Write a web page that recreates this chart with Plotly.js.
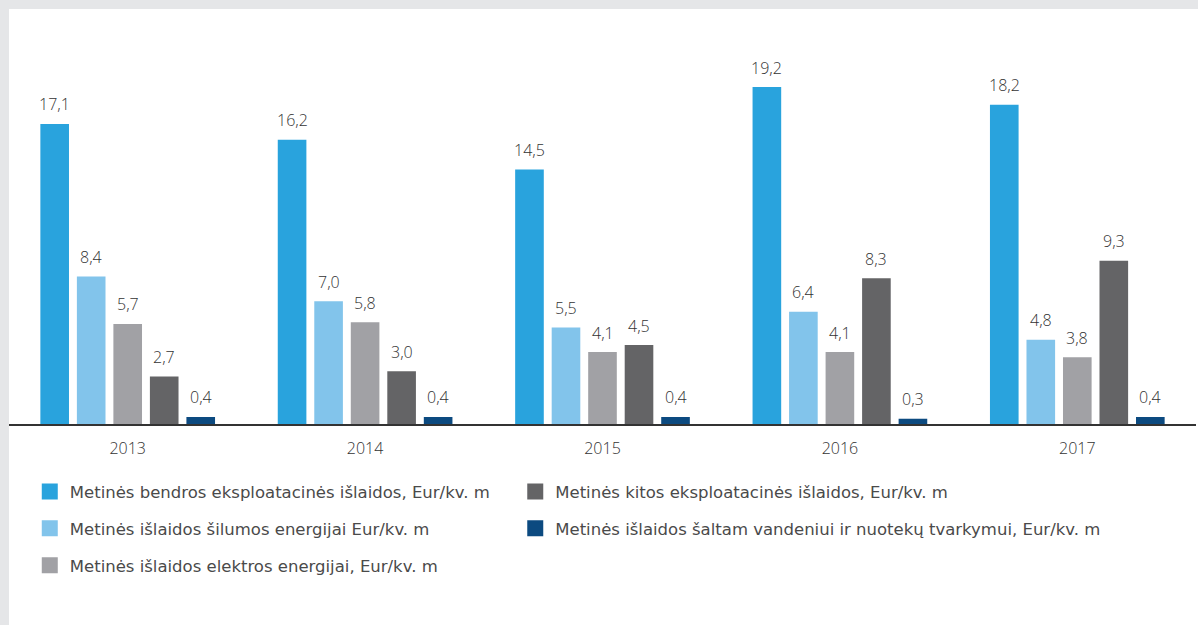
<!DOCTYPE html>
<html>
<head>
<meta charset="utf-8">
<script src="https://cdn.plot.ly/plotly-3.0.1.min.js"></script>
<style>
  html, body { margin: 0; padding: 0; background: #E5E6E8; width: 1198px; height: 625px; overflow: hidden; }
  #chart { position: absolute; left: 9px; top: 9px; width: 1189px; height: 616px; background: #fff; }
</style>
</head>
<body>
<div id="chart"></div>
<script>
const years = ['2013', '2014', '2015', '2016', '2017'];
const seriesNames = [
  'Metinės bendros eksploatacinės išlaidos, Eur/kv. m',
  'Metinės išlaidos šilumos energijai Eur/kv. m',
  'Metinės išlaidos elektros energijai, Eur/kv. m',
  'Metinės kitos eksploatacinės išlaidos, Eur/kv. m',
  'Metinės išlaidos šaltam vandeniui ir nuotekų tvarkymui, Eur/kv. m'
];
const bendros = [17.1, 16.2, 14.5, 19.2, 18.2];
const silumos = [8.4, 7.0, 5.5, 6.4, 4.8];
const elektros = [5.7, 5.8, 4.1, 4.1, 3.8];
const kitos = [2.7, 3.0, 4.5, 8.3, 9.3];
const vandens = [0.4, 0.4, 0.4, 0.3, 0.4];
const colors = ['#29A3DD', '#82C4EB', '#A1A1A5', '#646466', '#0C4A80'];

const seriesValues = [bendros, silumos, elektros, kitos, vandens];
const BARGAP = 0.231;
const BARGROUPGAP = 0.216;
const fontFam = '"Open Sans", "Noto Sans", sans-serif';
const legendFam = '"DejaVu Sans", "Open Sans", sans-serif';
const fmt = v => v.toFixed(1).replace('.', ',');

const traces = [];
seriesValues.forEach((vals, j) => {
  traces.push({
    type: 'bar',
    x: years,
    y: vals,
    name: seriesNames[j],
    marker: { color: colors[j] },
    showlegend: false,
    hoverinfo: 'x+y'
  });
});
// legend entries (no data points)
seriesValues.forEach((vals, j) => {
  traces.push({
    type: 'scatter',
    mode: 'markers',
    x: [null],
    y: [null],
    name: seriesNames[j],
    marker: { color: colors[j], symbol: 'square', size: 19 },
    legend: j < 3 ? 'legend' : 'legend2',
    legendgroup: 'g' + j,
    showlegend: true,
    hoverinfo: 'skip'
  });
});

const slot = (1 - BARGAP) / seriesValues.length;
const annotations = [];
seriesValues.forEach((vals, j) => {
  vals.forEach((v, i) => {
    annotations.push({
      x: i + (j - (seriesValues.length - 1) / 2) * slot,
      y: v,
      xref: 'x', yref: 'y',
      text: fmt(v),
      showarrow: false,
      yanchor: 'middle',
      yshift: 19.5,
      font: { family: fontFam, size: 16, color: '#333333', weight: 300 }
    });
  });
});

const legendCommon = {
  orientation: 'v',
  xanchor: 'left',
  yanchor: 'top',
  bgcolor: 'rgba(0,0,0,0)',
  font: { family: legendFam, size: 16.5, color: '#4a4a4a' },
  traceorder: 'grouped',
  tracegroupgap: 12.5,
  itemsizing: 'trace'
};

const layout = {
  width: 1189,
  height: 616,
  margin: { l: 0, r: 2, t: 20, b: 201 },
  paper_bgcolor: '#ffffff',
  plot_bgcolor: '#ffffff',
  barmode: 'group',
  bargap: BARGAP,
  bargroupgap: BARGROUPGAP,
  xaxis: {
    type: 'category',
    showline: true,
    linecolor: '#333333',
    linewidth: 1.5,
    ticks: '',
    ticklabelstandoff: 9,
    tickfont: { family: fontFam, size: 16, color: '#333333', weight: 300 },
    showgrid: false,
    zeroline: false,
    fixedrange: true
  },
  yaxis: {
    range: [0, 22.51],
    visible: false,
    showgrid: false,
    zeroline: false,
    fixedrange: true
  },
  legend: Object.assign({}, legendCommon, { x: 0.0175, y: -0.127 }),
  legend2: Object.assign({}, legendCommon, { x: 0.4265, y: -0.127 }),
  annotations: annotations,
  showlegend: true
};

Plotly.newPlot('chart', traces, layout, { displayModeBar: false, responsive: false });
</script>
</body>
</html>
